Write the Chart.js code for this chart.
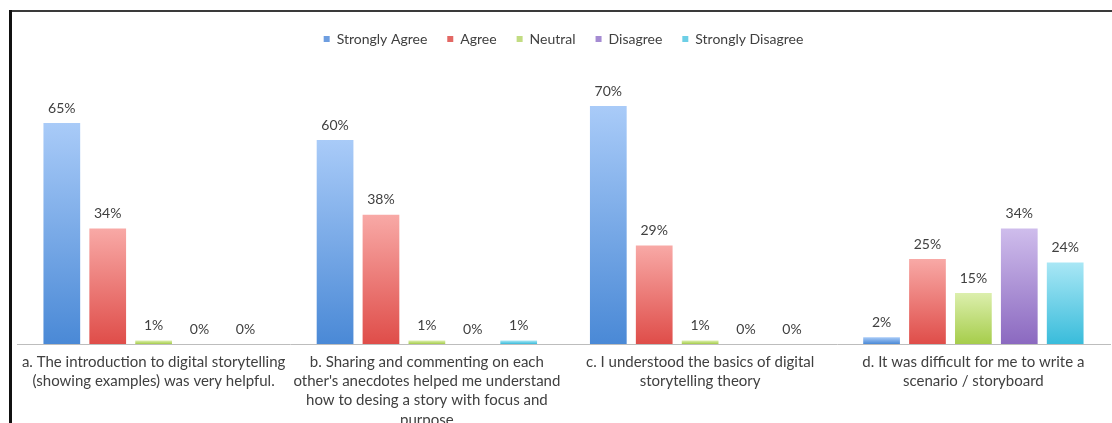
<!DOCTYPE html>
<html>
<head>
<meta charset="utf-8">
<script src="https://cdn.jsdelivr.net/npm/chart.js@4.4.1/dist/chart.umd.min.js"></script>
<style>
  html, body { margin: 0; padding: 0; background: #fff; overflow: hidden; }
  #wrap { position: absolute; left: 0; top: 0; width: 1112px; height: 423px; }
  #frameTop { position: absolute; left: 9px; top: 10px; width: 1103px; height: 2px; background: #3a3a3a; }
  #frameLeft { position: absolute; left: 9px; top: 10px; width: 3px; height: 413px; background: #111; }
</style>
</head>
<body>
<div id="wrap"><canvas id="c" width="1112" height="423"></canvas></div>
<div id="frameTop"></div>
<div id="frameLeft"></div>
<script>
const categories = [
  ["a. The introduction to digital storytelling", "(showing examples) was very helpful."],
  ["b. Sharing and commenting on each", "other's anecdotes helped me understand", "how to desing a story with focus and", "purpose"],
  ["c. I understood the basics of digital", "storytelling theory"],
  ["d. It was difficult for me to write a", "scenario / storyboard"]
];
const seriesNames = ["Strongly Agree", "Agree", "Neutral", "Disagree", "Strongly Disagree"];
const stronglyAgree = [65, 60, 70, 2];
const agree = [34, 38, 29, 25];
const neutral = [1, 1, 1, 15];
const disagree = [0, 0, 0, 34];
const stronglyDisagree = [0, 1, 0, 24];

const topColors = ["#a9cbf8", "#f8a9a6", "#dcefad", "#cfbdec", "#a9e7f5"];
const bottomColors = ["#4a89d6", "#df4d49", "#a6cd4b", "#8b69c0", "#39bcdb"];
const legendColors = ["#6e9ee0", "#e36864", "#c2dc82", "#a58bd2", "#6dcfe6"];

function gradientFor(i) {
  return function (ctx) {
    const chart = ctx.chart;
    const ys = chart.scales && chart.scales.y;
    if (ctx.type !== 'data' || !ys || !chart.chartArea) return legendColors[i];
    const v = ctx.raw || 0;
    const top = ys.getPixelForValue(v);
    const bottom = ys.getPixelForValue(0);
    if (!isFinite(top) || !isFinite(bottom) || bottom - top < 1) return bottomColors[i];
    const g = chart.ctx.createLinearGradient(0, top, 0, bottom);
    g.addColorStop(0, topColors[i]);
    g.addColorStop(1, bottomColors[i]);
    return g;
  };
}

const allSeries = [stronglyAgree, agree, neutral, disagree, stronglyDisagree];
const datasets = allSeries.map((d, i) => ({
  label: seriesNames[i],
  data: d,
  backgroundColor: gradientFor(i),
  borderWidth: 0,
  categoryPercentage: 0.84,
  barPercentage: 0.8
}));

const TEXT = "#404040";
const FONT = "Lato, 'Open Sans', sans-serif";

const valueLabels = {
  id: 'valueLabels',
  afterDatasetsDraw(chart) {
    const c = chart.ctx;
    c.save();
    c.font = "14px " + FONT;
    c.fillStyle = TEXT;
    c.textAlign = 'center';
    c.textBaseline = 'bottom';
    chart.data.datasets.forEach((ds, di) => {
      const meta = chart.getDatasetMeta(di);
      meta.data.forEach((el, i) => {
        c.fillText(ds.data[i] + "%", el.x, el.y - 8);
      });
    });
    c.restore();
  }
};

const legendHeight = {
  id: 'legendHeight',
  beforeInit(chart) {
    const orig = chart.legend.fit;
    chart.legend.fit = function () {
      orig.call(this);
      this.height = 60;
    };
  }
};

new Chart(document.getElementById('c'), {
  type: 'bar',
  data: { labels: categories, datasets },
  plugins: [valueLabels, legendHeight],
  options: {
    responsive: false,
    animation: false,
    layout: { padding: { left: 17, right: 2, top: 12, bottom: 0 } },
    plugins: {
      tooltip: { enabled: false },
      legend: {
        position: 'top',
        labels: {
          boxWidth: 6,
          boxHeight: 6,
          padding: 20,
          color: TEXT,
          font: { family: FONT, size: 14 },
          generateLabels(chart) {
            return chart.data.datasets.map((ds, i) => ({
              text: ds.label,
              fillStyle: legendColors[i],
              strokeStyle: legendColors[i],
              lineWidth: 0,
              hidden: false,
              datasetIndex: i,
              fontColor: TEXT
            }));
          }
        }
      }
    },
    scales: {
      x: {
        grid: { display: false, drawTicks: false },
        border: { display: true, color: '#bdbdbd', width: 1 },
        ticks: {
          color: TEXT,
          font: { family: FONT, size: 15, lineHeight: 1.27 },
          padding: 9,
          maxRotation: 0,
          autoSkip: false
        },
        afterFit(scale) { scale.height = 79; }
      },
      y: {
        display: false,
        min: 0,
        max: 80
      }
    }
  }
});
</script>
</body>
</html>
